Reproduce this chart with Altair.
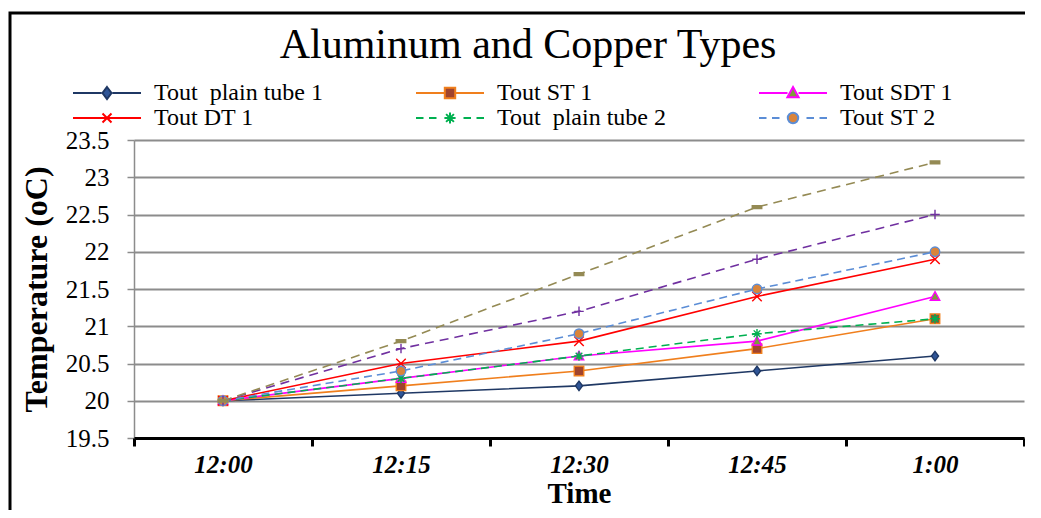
import altair as alt
import pandas as pd

SERIF = "Liberation Serif"

times = ["12:00", "12:15", "12:30", "12:45", "1:00"]
series_names = ["Tout  plain tube 1", "Tout ST 1", "Tout SDT 1", "Tout DT 1",
                "Tout  plain tube 2", "Tout ST 2", "Tout SDT 2", "Tout DT 2"]
legend_names = series_names[:6]

plain_tube_1 = [20.0, 20.1, 20.2, 20.4, 20.6]
st_1 = [20.0, 20.2, 20.4, 20.7, 21.1]
sdt_1 = [20.0, 20.3, 20.6, 20.8, 21.4]
dt_1 = [20.0, 20.5, 20.8, 21.4, 21.9]
plain_tube_2 = [20.0, 20.3, 20.6, 20.9, 21.1]
st_2 = [20.0, 20.4, 20.9, 21.5, 22.0]
sdt_2 = [20.0, 20.7, 21.2, 21.9, 22.5]
dt_2 = [20.0, 20.8, 21.7, 22.6, 23.2]
all_values = [plain_tube_1, st_1, sdt_1, dt_1, plain_tube_2, st_2, sdt_2, dt_2]

y_ticks = [19.5, 20, 20.5, 21, 21.5, 22, 22.5, 23, 23.5]

line_colors = ["#1F3864", "#F07F1D", "#FF00FF", "#FF0000",
               "#00B050", "#5B8DD6", "#7030A0", "#948A54"]
marker_fills = ["#2F5597", "#A0442E", "#7E9A3C", "#FF0000",
                "#00B050", "#D9843B", "#7030A0", "#948A54"]
solid_series = series_names[:4]
dashed_a = series_names[4:6]
dashed_b = series_names[6:8]
marker_paths = [
    "M0,-1L0.75,0L0,1L-0.75,0Z",
    "M-1,-1H1V1H-1Z",
    "M0,-1L1,0.8H-1Z",
    "M-1,-1L1,1M-1,1L1,-1",
    "M-1,0H1M0,-1V1M-0.7,-0.7L0.7,0.7M-0.7,0.7L0.7,-0.7",
    "circle",
    "M-1,0H1M0,-1V1",
    "M-1,-0.3H1V0.3H-1Z",
]

# legend symbols: line + marker in one path (1 unit = 10 px at symbol size 400)
SOLID = "M-3.4,0H-0.55M0.55,0H3.4"
DASHED = "M-3.4,0H-2.65M-2.1,0H-1.35M1.35,0H2.1M2.65,0H3.4"
legend_paths = [
    SOLID + "M0,-0.6L0.45,0L0,0.6L-0.45,0Z",
    SOLID + "M-0.52,-0.52H0.52V0.52H-0.52Z",
    SOLID + "M0,-0.6L0.56,0.42H-0.56Z",
    "M-3.4,0H3.4M-0.45,-0.45L0.45,0.45M-0.45,0.45L0.45,-0.45",
    DASHED + "M-0.56,0H0.56M0,-0.56V0.56M-0.39,-0.39L0.39,0.39M-0.39,0.39L0.39,-0.39",
    DASHED + "M0.52,0A0.52,0.52 0 1,1 -0.52,0A0.52,0.52 0 1,1 0.52,0Z",
]

rows = []
for name, vals in zip(series_names, all_values):
    for t, v in zip(times, vals):
        rows.append({"series": name, "time": t, "temp": v})
df = pd.DataFrame(rows)


def expr_map(values, default):
    s = "'%s'" % default
    for n, v in reversed(list(zip(legend_names, values))):
        s = "datum.value === '%s' ? '%s' : (%s)" % (n, v, s)
    return alt.ExprRef(expr=s)


legend = alt.Legend(
    title=None,
    values=legend_names,
    orient="none",
    legendX=-64,
    legendY=-59,
    direction="horizontal",
    columns=3,
    columnPadding=89,
    rowPadding=1,
    padding=0,
    symbolSize=400,
    symbolStrokeWidth=2,
    symbolOffset=25,
    symbolType=expr_map(legend_paths, "stroke"),
    symbolFillColor=expr_map(marker_fills[:6], "transparent"),
    labelOffset=35,
    labelFont=SERIF,
    labelFontSize=24,
    labelColor="black",
    labelLimit=400,
    labelExpr="replace(datum.label, '  ', '\u00a0 ')",
)

x_enc = alt.X(
    "time:N", sort=times, bandPosition=0.5,
    scale=alt.Scale(type="band", paddingInner=0, paddingOuter=0),
    axis=alt.Axis(
        title="Time", titleFont=SERIF, titleFontSize=29, titleFontWeight="bold",
        titleColor="black", titlePadding=2,
        labelFont=SERIF, labelFontSize=25, labelFontStyle="italic",
        labelFontWeight="bold", labelColor="black", labelAngle=0, labelPadding=6,
        tickSize=8, tickWidth=3, tickColor="black", tickBand="extent",
        domainColor="black", domainWidth=3, grid=False, zindex=1,
    ),
)
y_enc = alt.Y(
    "temp:Q",
    scale=alt.Scale(domain=[19.5, 23.5], nice=False, zero=False),
    axis=alt.Axis(
        values=y_ticks, format="~g",
        title="Temperature (oC)", titleFont=SERIF, titleFontSize=32,
        titleFontWeight="bold", titleColor="black", titlePadding=12,
        labelFont=SERIF, labelFontSize=25, labelColor="black", labelPadding=18,
        tickSize=7, tickWidth=1.5, tickColor="#8C8C8C",
        domainColor="#8C8C8C", domainWidth=1.5,
        grid=True, gridColor="#8C8C8C", gridWidth=2,
    ),
)

base = alt.Chart(df).encode(x=x_enc, y=y_enc)
color_enc = alt.Color("series:N", scale=alt.Scale(domain=series_names, range=line_colors),
                      legend=legend)

line_solid = base.mark_line(strokeWidth=1.6).encode(color=color_enc).transform_filter(
    alt.FieldOneOfPredicate(field="series", oneOf=solid_series))
line_dash_a = base.mark_line(strokeWidth=1.6, strokeDash=[8, 5]).encode(
    color=color_enc).transform_filter(
    alt.FieldOneOfPredicate(field="series", oneOf=dashed_a))
line_dash_b = base.mark_line(strokeWidth=1.6, strokeDash=[9, 6]).encode(
    color=color_enc).transform_filter(
    alt.FieldOneOfPredicate(field="series", oneOf=dashed_b))

marker_layers = []
for name, path, fc, sc in zip(series_names, marker_paths, marker_fills, line_colors):
    marker_layers.append(
        base.mark_point(shape=path, size=90, filled=True, fill=fc, stroke=sc,
                        strokeWidth=1.4, opacity=1)
        .transform_filter(alt.FieldEqualPredicate(field="series", equal=name))
    )

frame = alt.Chart(alt.Data(values=[{"k": 1}])).mark_rect(
    fillOpacity=0, stroke="black", strokeWidth=3
).encode(x=alt.value(-124), x2=alt.value(930), y=alt.value(-127), y2=alt.value(400))

chart = alt.layer(frame, line_solid, line_dash_a, line_dash_b, *marker_layers).properties(
    width=890,
    height=298,
    autosize=alt.AutoSizeParams(type="none"),
    padding={"left": 126, "top": 132, "right": 1, "bottom": 72},
    title=alt.Title("Aluminum and Copper Types", font=SERIF, fontSize=42,
                    fontWeight="normal", color="black", anchor="middle",
                    frame="group", dx=-51, dy=88, offset=0, baseline="alphabetic"),
).configure_view(strokeWidth=0)

chart.save("out.html", embed_options={"renderer": "svg", "actions": False})
